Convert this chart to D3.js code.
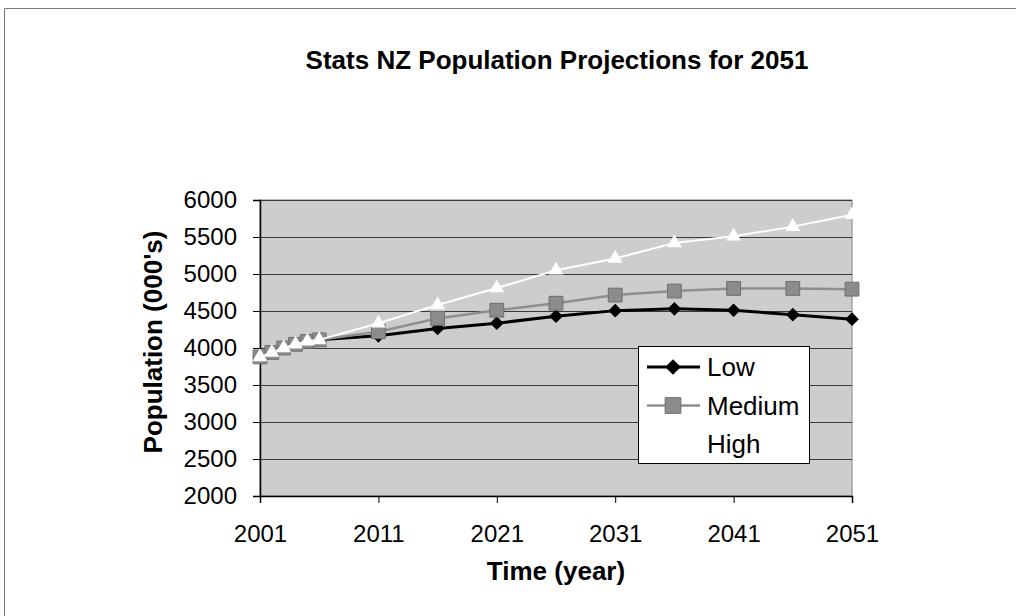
<!DOCTYPE html>
<html>
<head>
<meta charset="utf-8">
<script src="https://cdn.jsdelivr.net/npm/d3@7"></script>
<style>
  html, body { margin: 0; padding: 0; background: #fff; }
  svg { display: block; font-family: "Liberation Sans", Arial, sans-serif; }
</style>
</head>
<body>
<svg id="chart" width="1016" height="616"></svg>
<script>
// Projection years and population (thousands) for each scenario
const years = [2001, 2002, 2003, 2004, 2005, 2006, 2011, 2016, 2021, 2026, 2031, 2036, 2041, 2046, 2051];
const low    = [3880, 3940, 4000, 4050, 4090, 4110, 4165, 4265, 4335, 4430, 4505, 4530, 4510, 4450, 4390];
const medium = [3880, 3940, 4000, 4050, 4090, 4110, 4220, 4400, 4510, 4605, 4715, 4770, 4805, 4805, 4795];
const high   = [3880, 3940, 4000, 4050, 4090, 4110, 4335, 4580, 4810, 5050, 5210, 5420, 5510, 5640, 5800];
const seriesNames = ["Low", "Medium", "High"];
const xTicks = [2001, 2011, 2021, 2031, 2041, 2051];
const yTicks = [2000, 2500, 3000, 3500, 4000, 4500, 5000, 5500, 6000];

const svg = d3.select("#chart");
const FONT = "'Liberation Sans', Arial, sans-serif";

// chart frame
svg.append("line").attr("x1", 4.5).attr("x2", 1016).attr("y1", 8.5).attr("y2", 8.5)
  .attr("stroke", "#777").attr("stroke-width", 1);
svg.append("line").attr("x1", 4.5).attr("x2", 4.5).attr("y1", 8.5).attr("y2", 616)
  .attr("stroke", "#777").attr("stroke-width", 1);

const plot = { left: 260, right: 852, top: 200, bottom: 496 };
const x = d3.scaleLinear().domain([2001, 2051]).range([plot.left, plot.right]);
const y = d3.scaleLinear().domain([2000, 6000]).range([plot.bottom, plot.top]);

// plot area
svg.append("rect")
  .attr("x", plot.left).attr("y", plot.top)
  .attr("width", plot.right - plot.left).attr("height", plot.bottom - plot.top)
  .attr("fill", "#cdcdcd").attr("stroke", "#808080").attr("stroke-width", 1);

// horizontal gridlines
svg.append("g").selectAll("line").data(yTicks.slice(1)).join("line")
  .attr("x1", plot.left).attr("x2", plot.right)
  .attr("y1", d => Math.round(y(d)) + 0.5).attr("y2", d => Math.round(y(d)) + 0.5)
  .attr("stroke", "#3a3a3a").attr("stroke-width", 1);

// axes
const yAxis = d3.axisLeft(y).tickValues(yTicks).tickSize(7).tickPadding(16).tickFormat(d3.format("d"));
const xAxis = d3.axisBottom(x).tickValues(xTicks).tickSize(7).tickPadding(22).tickFormat(d3.format("d"));

const gy = svg.append("g").attr("transform", `translate(${plot.left},0)`).call(yAxis);
const gx = svg.append("g").attr("transform", `translate(0,${plot.bottom})`).call(xAxis);
[gx, gy].forEach(g => {
  g.select(".domain").attr("stroke", "#000").attr("stroke-width", 1.5);
  g.selectAll(".tick line").attr("stroke", "#000");
  g.selectAll(".tick text").attr("fill", "#000").attr("font-size", 24).attr("font-family", FONT);
});

// series
const series = [
  { name: "Low", values: low, stroke: "#000", width: 3, marker: "diamond", fill: "#000", edge: "none" },
  { name: "Medium", values: medium, stroke: "#8e8e8e", width: 2.5, marker: "square", fill: "#8c8c8c", edge: "#6e6e6e" },
  { name: "High", values: high, stroke: "#ffffff", width: 2, marker: "triangle", fill: "#ffffff", edge: "none" }
];
const symbolType = { diamond: d3.symbolDiamond2 || d3.symbolDiamond, square: d3.symbolSquare, triangle: d3.symbolTriangle };
const symbolSize = { diamond: 120, square: 190, triangle: 95 };

const line = d3.line().x(d => x(d[0])).y(d => y(d[1]));

series.forEach(s => {
  const pts = years.map((yr, i) => [yr, s.values[i]]);
  svg.append("path").datum(pts).attr("d", line)
    .attr("fill", "none").attr("stroke", s.stroke).attr("stroke-width", s.width);
  svg.append("g").selectAll("path").data(pts).join("path")
    .attr("transform", d => `translate(${x(d[0])},${y(d[1])})`)
    .attr("d", d3.symbol().type(symbolType[s.marker]).size(symbolSize[s.marker]))
    .attr("fill", s.fill)
    .attr("stroke", s.edge);
});

// legend
const lg = svg.append("g").attr("transform", "translate(638,346)");
lg.append("rect").attr("x", 0.5).attr("y", 0.5).attr("width", 171).attr("height", 117)
  .attr("fill", "#fff").attr("stroke", "#000").attr("stroke-width", 1);
series.forEach((s, i) => {
  const cy = 21 + i * 38.5;
  lg.append("line").attr("x1", 9).attr("x2", 62).attr("y1", cy).attr("y2", cy)
    .attr("stroke", s.stroke).attr("stroke-width", s.width);
  lg.append("path").attr("transform", `translate(35,${cy})`)
    .attr("d", d3.symbol().type(symbolType[s.marker]).size(symbolSize[s.marker] * 1.3))
    .attr("fill", s.fill).attr("stroke", s.edge);
  lg.append("text").attr("x", 69).attr("y", cy).attr("dy", "0.35em")
    .attr("font-size", 26).attr("font-family", FONT).attr("fill", "#000").text(seriesNames[i]);
});

// titles
svg.append("text").attr("x", 557).attr("y", 69).attr("text-anchor", "middle")
  .attr("font-size", 26).attr("font-weight", "bold").attr("font-family", FONT).attr("fill", "#000")
  .text("Stats NZ Population Projections for 2051");
svg.append("text").attr("x", 556).attr("y", 580).attr("text-anchor", "middle")
  .attr("font-size", 26).attr("font-weight", "bold").attr("font-family", FONT).attr("fill", "#000")
  .text("Time (year)");
svg.append("text").attr("transform", "translate(162,342) rotate(-90)").attr("text-anchor", "middle")
  .attr("font-size", 26).attr("font-weight", "bold").attr("font-family", FONT).attr("fill", "#000")
  .text("Population (000's)");
</script>
</body>
</html>
